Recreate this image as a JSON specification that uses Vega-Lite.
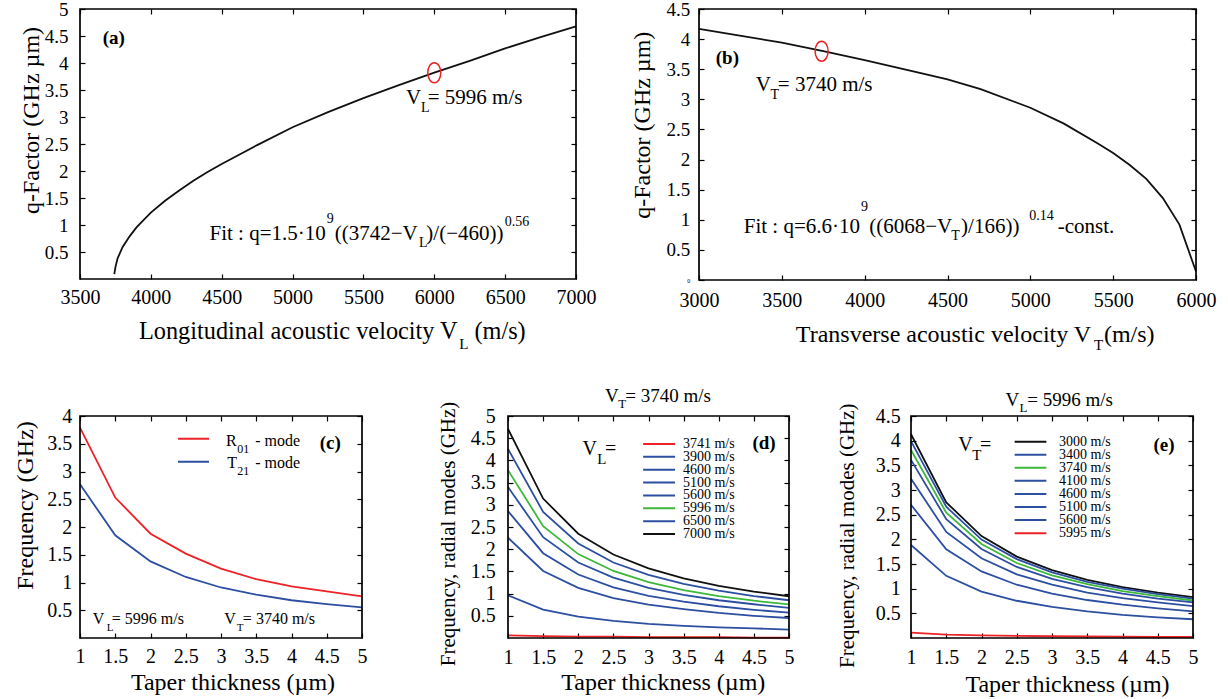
{
"$schema": "https://vega.github.io/schema/vega-lite/v6.json",
"background": "white",
"padding": {"left": 13, "top": 0, "right": 5, "bottom": 5},
"config": {
 "font": "Liberation Serif",
 "view": {"stroke": null},
 "axis": {"domain": false, "grid": false, "tickSize": 5, "offset": -5, "tickColor": "#000", "tickWidth": 1.2, "labelColor": "#000", "titleColor": "#000", "titleFontWeight": "normal", "labelFlush": false, "labelOverlap": false, "labelFont": "Liberation Serif", "titleFont": "Liberation Serif"},
 "text": {"font": "Liberation Serif", "color": "#000", "align": "left", "baseline": "middle"},
 "rule": {"strokeWidth": 2}
},
"spacing": 33,
"vconcat": [
{"hconcat": [
 {"width": 496, "height": 270,
  "data": {"values": [{}]},
  "resolve": {"axis": {"x": "independent", "y": "independent"}},
  "layer": [
   {"data": {"values": [
     {"V":3742,"q":0.09},{"V":3750,"q":0.22},{"V":3765,"q":0.38},{"V":3800,"q":0.59},{"V":3850,"q":0.79},{"V":3900,"q":0.96},{"V":4000,"q":1.23},{"V":4100,"q":1.45},{"V":4200,"q":1.64},{"V":4300,"q":1.82},{"V":4400,"q":1.98},{"V":4500,"q":2.13},{"V":4750,"q":2.48},{"V":5000,"q":2.81},{"V":5250,"q":3.09},{"V":5500,"q":3.35},{"V":5750,"q":3.59},{"V":6000,"q":3.82},{"V":6250,"q":4.04},{"V":6500,"q":4.27},{"V":6750,"q":4.48},{"V":7000,"q":4.68}]},
    "mark": {"type": "line", "color": "#111", "strokeWidth": 1.8},
    "encoding": {
     "x": {"field": "V", "type": "quantitative", "scale": {"domain": [3500, 7000]}, "axis": {"values": [3500,4000,4500,5000,5500,6000,6500,7000], "format": "d", "labelFontSize": 20, "labelBaseline": "middle", "labelPadding": 18.2, "title": null}},
     "y": {"field": "q", "type": "quantitative", "scale": {"domain": [0, 5]}, "axis": {"values": [0.5,1,1.5,2,2.5,3,3.5,4,4.5,5], "format": "~g", "labelFontSize": 19, "labelPadding": 12, "title": "q-Factor (GHz µm)", "titleFontSize": 24, "titleX": -53.8, "titleY": 111, "titleBaseline": "middle", "titleAngle": -90, "titleAlign": "center"}}
    }},
   {"mark": {"type": "point", "opacity": 0},
    "encoding": {"x": {"datum": 3500, "axis": {"orient": "top", "values": [3500,4000,4500,5000,5500,6000,6500,7000], "labels": false, "title": null}},
                 "y": {"datum": 0.5, "axis": {"orient": "right", "values": [0.5,1,1.5,2,2.5,3,3.5,4,4.5,5], "labels": false, "title": null}}}},
   {"mark": {"type": "rect", "filled": false, "stroke": "#000", "strokeWidth": 1.7},
    "encoding": {"x": {"datum": 3500, "axis": null}, "x2": {"datum": 7000}, "y": {"datum": 0, "axis": null}, "y2": {"datum": 5}}},
   {"mark": {"type": "point", "shape": "M-0.65,0 A0.65,1 0 1,1 0.65,0 A0.65,1 0 1,1 -0.65,0 Z", "size": 400, "filled": false, "color": "#ec2227", "strokeWidth": 1.5, "opacity": 1},
    "encoding": {"x": {"datum": 6000, "axis": null}, "y": {"datum": 3.82, "axis": null}}},
   {"mark": {"type": "text", "text": "(a)", "fontSize": 19, "fontWeight": "bold"}, "encoding": {"x": {"datum": 3660, "axis": null}, "y": {"datum": 4.47, "axis": null}}},
   {"mark": {"type": "text", "text": "V", "fontSize": 21}, "encoding": {"x": {"datum": 5800, "axis": null}, "y": {"datum": 3.36, "axis": null}}},
   {"mark": {"type": "text", "text": "L", "fontSize": 14}, "encoding": {"x": {"datum": 5906, "axis": null}, "y": {"datum": 3.16, "axis": null}}},
   {"mark": {"type": "text", "text": "= 5996 m/s", "fontSize": 21}, "encoding": {"x": {"datum": 5954, "axis": null}, "y": {"datum": 3.36, "axis": null}}},
   {"mark": {"type": "text", "text": "Fit : q=1.5·10", "fontSize": 21, "align": "right"}, "encoding": {"x": {"datum": 5234, "axis": null}, "y": {"datum": 0.835, "axis": null}}},
   {"mark": {"type": "text", "text": "9", "fontSize": 14}, "encoding": {"x": {"datum": 5241, "axis": null}, "y": {"datum": 1.12, "axis": null}}},
   {"mark": {"type": "text", "text": "((3742−V", "fontSize": 21}, "encoding": {"x": {"datum": 5297, "axis": null}, "y": {"datum": 0.835, "axis": null}}},
   {"mark": {"type": "text", "text": "L", "fontSize": 14}, "encoding": {"x": {"datum": 5892, "axis": null}, "y": {"datum": 0.66, "axis": null}}},
   {"mark": {"type": "text", "text": ")/(−460))", "fontSize": 21}, "encoding": {"x": {"datum": 5944, "axis": null}, "y": {"datum": 0.835, "axis": null}}},
   {"mark": {"type": "text", "text": "0.56", "fontSize": 14}, "encoding": {"x": {"datum": 6497, "axis": null}, "y": {"datum": 1.06, "axis": null}}},
   {"mark": {"type": "text", "text": "Longitudinal acoustic velocity V", "fontSize": 24.3, "align": "right"}, "encoding": {"x": {"datum": 6165, "axis": null}, "y": {"datum": -0.983, "axis": null}}},
   {"mark": {"type": "text", "text": "L", "fontSize": 15}, "encoding": {"x": {"datum": 6177, "axis": null}, "y": {"datum": -1.197, "axis": null}}},
   {"mark": {"type": "text", "text": "(m/s)", "fontSize": 24.3}, "encoding": {"x": {"datum": 6283, "axis": null}, "y": {"datum": -0.983, "axis": null}}}
  ]},
 {"width": 497, "height": 271,
  "data": {"values": [{}]},
  "resolve": {"axis": {"x": "independent", "y": "independent"}},
  "layer": [
   {"data": {"values": [
     {"V":3000,"q":4.17},{"V":3200,"q":4.08},{"V":3500,"q":3.94},{"V":3750,"q":3.80},{"V":4000,"q":3.65},{"V":4300,"q":3.46},{"V":4500,"q":3.33},{"V":4700,"q":3.17},{"V":5000,"q":2.86},{"V":5200,"q":2.60},{"V":5400,"q":2.28},{"V":5500,"q":2.11},{"V":5600,"q":1.91},{"V":5700,"q":1.68},{"V":5800,"q":1.36},{"V":5900,"q":0.92},{"V":6000,"q":0.14}]},
    "mark": {"type": "line", "color": "#111", "strokeWidth": 1.8},
    "encoding": {
     "x": {"field": "V", "type": "quantitative", "scale": {"domain": [3000, 6000]}, "axis": {"values": [3000,3500,4000,4500,5000,5500,6000], "format": "d", "labelFontSize": 20, "labelBaseline": "middle", "labelPadding": 20, "title": null}},
     "y": {"field": "q", "type": "quantitative", "scale": {"domain": [0, 4.5]}, "axis": {"values": [0,0.5,1,1.5,2,2.5,3,3.5,4,4.5], "format": "~g", "labelFontSize": {"condition": {"test": "datum.value === 0", "value": 6}, "value": 19}, "labelPadding": 9.3, "title": "q-Factor (GHz µm)", "titleFontSize": 24, "titleX": -62, "titleY": 115.7, "titleBaseline": "middle", "titleAngle": -90, "titleAlign": "center"}}
    }},
   {"mark": {"type": "point", "opacity": 0},
    "encoding": {"x": {"datum": 3000, "axis": {"orient": "top", "values": [3000,3500,4000,4500,5000,5500,6000], "labels": false, "title": null}},
                 "y": {"datum": 0.5, "axis": {"orient": "right", "values": [0.5,1,1.5,2,2.5,3,3.5,4,4.5], "labels": false, "title": null}}}},
   {"mark": {"type": "rect", "filled": false, "stroke": "#000", "strokeWidth": 1.7},
    "encoding": {"x": {"datum": 3000, "axis": null}, "x2": {"datum": 6000}, "y": {"datum": 0, "axis": null}, "y2": {"datum": 4.5}}},
   {"mark": {"type": "point", "shape": "M-0.65,0 A0.65,1 0 1,1 0.65,0 A0.65,1 0 1,1 -0.65,0 Z", "size": 400, "filled": false, "color": "#ec2227", "strokeWidth": 1.5, "opacity": 1},
    "encoding": {"x": {"datum": 3740, "axis": null}, "y": {"datum": 3.80, "axis": null}}},
   {"mark": {"type": "text", "text": "(b)", "fontSize": 19, "fontWeight": "bold"}, "encoding": {"x": {"datum": 3101, "axis": null}, "y": {"datum": 3.68, "axis": null}}},
   {"mark": {"type": "text", "text": "V", "fontSize": 21}, "encoding": {"x": {"datum": 3342, "axis": null}, "y": {"datum": 3.235, "axis": null}}},
   {"mark": {"type": "text", "text": "T", "fontSize": 14}, "encoding": {"x": {"datum": 3431, "axis": null}, "y": {"datum": 3.07, "axis": null}}},
   {"mark": {"type": "text", "text": "= 3740 m/s", "fontSize": 21}, "encoding": {"x": {"datum": 3476, "axis": null}, "y": {"datum": 3.235, "axis": null}}},
   {"mark": {"type": "text", "text": "Fit : q=6.6·10", "fontSize": 21, "align": "right"}, "encoding": {"x": {"datum": 3972, "axis": null}, "y": {"datum": 0.874, "axis": null}}},
   {"mark": {"type": "text", "text": "9", "fontSize": 14}, "encoding": {"x": {"datum": 3978, "axis": null}, "y": {"datum": 1.22, "axis": null}}},
   {"mark": {"type": "text", "text": "((6068−V", "fontSize": 21}, "encoding": {"x": {"datum": 4027, "axis": null}, "y": {"datum": 0.874, "axis": null}}},
   {"mark": {"type": "text", "text": "T", "fontSize": 14}, "encoding": {"x": {"datum": 4522, "axis": null}, "y": {"datum": 0.737, "axis": null}}},
   {"mark": {"type": "text", "text": ")/166))", "fontSize": 21}, "encoding": {"x": {"datum": 4582, "axis": null}, "y": {"datum": 0.874, "axis": null}}},
   {"mark": {"type": "text", "text": "0.14", "fontSize": 14}, "encoding": {"x": {"datum": 4993, "axis": null}, "y": {"datum": 1.07, "axis": null}}},
   {"mark": {"type": "text", "text": "-const.", "fontSize": 21}, "encoding": {"x": {"datum": 5165, "axis": null}, "y": {"datum": 0.874, "axis": null}}},
   {"mark": {"type": "text", "text": "Transverse acoustic velocity V", "fontSize": 24, "align": "right"}, "encoding": {"x": {"datum": 5367, "axis": null}, "y": {"datum": -0.913, "axis": null}}},
   {"mark": {"type": "text", "text": "T", "fontSize": 15}, "encoding": {"x": {"datum": 5385, "axis": null}, "y": {"datum": -1.078, "axis": null}}},
   {"mark": {"type": "text", "text": "(m/s)", "fontSize": 24}, "encoding": {"x": {"datum": 5444, "axis": null}, "y": {"datum": -0.913, "axis": null}}}
  ]}
 ], "bounds": "flush", "spacing": 123},
{"hconcat": [
 {"width": 282, "height": 222,
  "data": {"values": [{}]},
  "resolve": {"axis": {"x": "independent", "y": "independent"}},
  "layer": [
   {"data": {"values": [
     {"t":1,"R":3.79,"T":2.77},{"t":1.5,"R":2.53,"T":1.85},{"t":2,"R":1.88,"T":1.38},{"t":2.5,"R":1.52,"T":1.10},{"t":3,"R":1.25,"T":0.91},{"t":3.5,"R":1.06,"T":0.78},{"t":4,"R":0.93,"T":0.68},{"t":4.5,"R":0.84,"T":0.61},{"t":5,"R":0.75,"T":0.55}]},
    "transform": [{"fold": ["R", "T"], "as": ["mode", "f"]}],
    "mark": {"type": "line", "strokeWidth": 1.8},
    "encoding": {
     "x": {"field": "t", "type": "quantitative", "scale": {"domain": [1, 5]}, "axis": {"values": [1,1.5,2,2.5,3,3.5,4,4.5,5], "format": "~g", "labelFontSize": 20, "labelBaseline": "middle", "labelPadding": 18, "title": "Taper thickness (µm)", "titleFontSize": 24, "titleX": 152.5, "titleY": 49.7, "titleBaseline": "middle", "titleAlign": "center"}},
     "y": {"field": "f", "type": "quantitative", "scale": {"domain": [0, 4]}, "axis": {"values": [0.5,1,1.5,2,2.5,3,3.5,4], "format": "~g", "labelFontSize": 20, "labelPadding": 8.3, "title": "Frequency (GHz)", "titleFontSize": 24, "titleX": -59.2, "titleY": 89, "titleBaseline": "middle", "titleAngle": -90, "titleAlign": "center"}},
     "color": {"field": "mode", "type": "nominal", "scale": {"domain": ["R", "T"], "range": ["#ec2227", "#2d4fa1"]}, "legend": null}
    }},
   {"mark": {"type": "point", "opacity": 0},
    "encoding": {"x": {"datum": 1, "axis": {"orient": "top", "values": [1,1.5,2,2.5,3,3.5,4,4.5,5], "labels": false, "title": null}},
                 "y": {"datum": 0.5, "axis": {"orient": "right", "values": [0.5,1,1.5,2,2.5,3,3.5,4], "labels": false, "title": null}}}},
   {"mark": {"type": "rect", "filled": false, "stroke": "#000", "strokeWidth": 1.7},
    "encoding": {"x": {"datum": 1, "axis": null}, "x2": {"datum": 5}, "y": {"datum": 0, "axis": null}, "y2": {"datum": 4}}},
   {"mark": {"type": "rule", "color": "#ec2227"}, "encoding": {"x": {"datum": 2.39, "axis": null}, "x2": {"datum": 2.83}, "y": {"datum": 3.59, "axis": null}}},
   {"mark": {"type": "rule", "color": "#2d4fa1"}, "encoding": {"x": {"datum": 2.39, "axis": null}, "x2": {"datum": 2.83}, "y": {"datum": 3.175, "axis": null}}},
   {"mark": {"type": "text", "text": "R", "fontSize": 16}, "encoding": {"x": {"datum": 3.07, "axis": null}, "y": {"datum": 3.55, "axis": null}}},
   {"mark": {"type": "text", "text": "01", "fontSize": 12}, "encoding": {"x": {"datum": 3.23, "axis": null}, "y": {"datum": 3.40, "axis": null}}},
   {"mark": {"type": "text", "text": "- mode", "fontSize": 16}, "encoding": {"x": {"datum": 3.485, "axis": null}, "y": {"datum": 3.55, "axis": null}}},
   {"mark": {"type": "text", "text": "T", "fontSize": 16}, "encoding": {"x": {"datum": 3.09, "axis": null}, "y": {"datum": 3.16, "axis": null}}},
   {"mark": {"type": "text", "text": "21", "fontSize": 12}, "encoding": {"x": {"datum": 3.23, "axis": null}, "y": {"datum": 3.01, "axis": null}}},
   {"mark": {"type": "text", "text": "- mode", "fontSize": 16}, "encoding": {"x": {"datum": 3.485, "axis": null}, "y": {"datum": 3.16, "axis": null}}},
   {"mark": {"type": "text", "text": "(c)", "fontSize": 19, "fontWeight": "bold"}, "encoding": {"x": {"datum": 4.40, "axis": null}, "y": {"datum": 3.52, "axis": null}}},
   {"mark": {"type": "text", "text": "V", "fontSize": 16}, "encoding": {"x": {"datum": 1.18, "axis": null}, "y": {"datum": 0.337, "axis": null}}},
   {"mark": {"type": "text", "text": "L", "fontSize": 11}, "encoding": {"x": {"datum": 1.38, "axis": null}, "y": {"datum": 0.186, "axis": null}}},
   {"mark": {"type": "text", "text": "= 5996 m/s", "fontSize": 16}, "encoding": {"x": {"datum": 1.45, "axis": null}, "y": {"datum": 0.337, "axis": null}}},
   {"mark": {"type": "text", "text": "V", "fontSize": 16}, "encoding": {"x": {"datum": 3.045, "axis": null}, "y": {"datum": 0.337, "axis": null}}},
   {"mark": {"type": "text", "text": "T", "fontSize": 11}, "encoding": {"x": {"datum": 3.225, "axis": null}, "y": {"datum": 0.186, "axis": null}}},
   {"mark": {"type": "text", "text": "= 3740 m/s", "fontSize": 16}, "encoding": {"x": {"datum": 3.31, "axis": null}, "y": {"datum": 0.337, "axis": null}}}
  ]},
 {"width": 146, "height": 222, "data": {"values": [{}]}, "mark": {"type": "text", "text": ""}},
 {"width": 281, "height": 222,
  "data": {"values": [{}]},
  "resolve": {"axis": {"x": "independent", "y": "independent"}},
  "layer": [
   {"data": {"values": [
     {"t":1,"3741":0.06,"3900":0.96,"4600":2.26,"5100":2.86,"5600":3.40,"5996":3.78,"6500":4.26,"7000":4.71},
     {"t":1.5,"3741":0.04,"3900":0.64,"4600":1.51,"5100":1.91,"5600":2.27,"5996":2.52,"6500":2.84,"7000":3.14},
     {"t":2,"3741":0.03,"3900":0.48,"4600":1.13,"5100":1.43,"5600":1.70,"5996":1.89,"6500":2.13,"7000":2.35},
     {"t":2.5,"3741":0.03,"3900":0.385,"4600":0.90,"5100":1.14,"5600":1.36,"5996":1.51,"6500":1.70,"7000":1.88},
     {"t":3,"3741":0.02,"3900":0.32,"4600":0.75,"5100":0.95,"5600":1.13,"5996":1.26,"6500":1.42,"7000":1.57},
     {"t":3.5,"3741":0.02,"3900":0.275,"4600":0.65,"5100":0.82,"5600":0.97,"5996":1.08,"6500":1.22,"7000":1.345},
     {"t":4,"3741":0.02,"3900":0.24,"4600":0.565,"5100":0.715,"5600":0.85,"5996":0.945,"6500":1.065,"7000":1.175},
     {"t":4.5,"3741":0.01,"3900":0.215,"4600":0.50,"5100":0.635,"5600":0.76,"5996":0.84,"6500":0.945,"7000":1.045},
     {"t":5,"3741":0.01,"3900":0.19,"4600":0.45,"5100":0.57,"5600":0.68,"5996":0.755,"6500":0.85,"7000":0.94}]},
    "transform": [{"fold": ["3741","3900","4600","5100","5600","5996","6500","7000"], "as": ["VL", "f"]}],
    "mark": {"type": "line", "strokeWidth": 1.8},
    "encoding": {
     "x": {"field": "t", "type": "quantitative", "scale": {"domain": [1, 5]}, "axis": {"values": [1,1.5,2,2.5,3,3.5,4,4.5,5], "format": "~g", "labelFontSize": 20, "labelBaseline": "middle", "labelPadding": 19, "title": "Taper thickness (µm)", "titleFontSize": 24, "titleX": 154.8, "titleY": 49.7, "titleBaseline": "middle", "titleAlign": "center"}},
     "y": {"field": "f", "type": "quantitative", "scale": {"domain": [0, 5]}, "axis": {"values": [0.5,1,1.5,2,2.5,3,3.5,4,4.5,5], "format": "~g", "labelFontSize": 20, "labelPadding": 12.7, "title": "Frequency, radial modes (GHz)", "titleFontSize": 21, "titleX": -64.4, "titleY": 117.5, "titleBaseline": "middle", "titleAngle": -90, "titleAlign": "center"}},
     "color": {"field": "VL", "type": "nominal", "scale": {"domain": ["3741","3900","4600","5100","5600","5996","6500","7000"], "range": ["#ec2227","#2d4fa1","#2d4fa1","#2d4fa1","#2d4fa1","#3db83a","#2d4fa1","#111111"]}, "legend": null}
    }},
   {"mark": {"type": "point", "opacity": 0},
    "encoding": {"x": {"datum": 1, "axis": {"orient": "top", "values": [1,1.5,2,2.5,3,3.5,4,4.5,5], "labels": false, "title": null}},
                 "y": {"datum": 0.5, "axis": {"orient": "right", "values": [0.5,1,1.5,2,2.5,3,3.5,4,4.5,5], "labels": false, "title": null}}}},
   {"mark": {"type": "rect", "filled": false, "stroke": "#000", "strokeWidth": 1.7},
    "encoding": {"x": {"datum": 1, "axis": null}, "x2": {"datum": 5}, "y": {"datum": 0, "axis": null}, "y2": {"datum": 5}}},
   {"mark": {"type": "rule", "color": "#ec2227"}, "encoding": {"x": {"datum": 2.924, "axis": null}, "x2": {"datum": 3.378}, "y": {"datum": 4.37, "axis": null}}},
   {"mark": {"type": "rule", "color": "#2d4fa1"}, "encoding": {"x": {"datum": 2.924, "axis": null}, "x2": {"datum": 3.378}, "y": {"datum": 4.08, "axis": null}}},
   {"mark": {"type": "rule", "color": "#2d4fa1"}, "encoding": {"x": {"datum": 2.924, "axis": null}, "x2": {"datum": 3.378}, "y": {"datum": 3.79, "axis": null}}},
   {"mark": {"type": "rule", "color": "#2d4fa1"}, "encoding": {"x": {"datum": 2.924, "axis": null}, "x2": {"datum": 3.378}, "y": {"datum": 3.50, "axis": null}}},
   {"mark": {"type": "rule", "color": "#2d4fa1"}, "encoding": {"x": {"datum": 2.924, "axis": null}, "x2": {"datum": 3.378}, "y": {"datum": 3.21, "axis": null}}},
   {"mark": {"type": "rule", "color": "#3db83a"}, "encoding": {"x": {"datum": 2.924, "axis": null}, "x2": {"datum": 3.378}, "y": {"datum": 2.92, "axis": null}}},
   {"mark": {"type": "rule", "color": "#2d4fa1"}, "encoding": {"x": {"datum": 2.924, "axis": null}, "x2": {"datum": 3.378}, "y": {"datum": 2.63, "axis": null}}},
   {"mark": {"type": "rule", "color": "#111111"}, "encoding": {"x": {"datum": 2.924, "axis": null}, "x2": {"datum": 3.378}, "y": {"datum": 2.34, "axis": null}}},
   {"mark": {"type": "text", "text": "3741 m/s", "fontSize": 14}, "encoding": {"x": {"datum": 3.49, "axis": null}, "y": {"datum": 4.37, "axis": null}}},
   {"mark": {"type": "text", "text": "3900 m/s", "fontSize": 14}, "encoding": {"x": {"datum": 3.49, "axis": null}, "y": {"datum": 4.08, "axis": null}}},
   {"mark": {"type": "text", "text": "4600 m/s", "fontSize": 14}, "encoding": {"x": {"datum": 3.49, "axis": null}, "y": {"datum": 3.79, "axis": null}}},
   {"mark": {"type": "text", "text": "5100 m/s", "fontSize": 14}, "encoding": {"x": {"datum": 3.49, "axis": null}, "y": {"datum": 3.50, "axis": null}}},
   {"mark": {"type": "text", "text": "5600 m/s", "fontSize": 14}, "encoding": {"x": {"datum": 3.49, "axis": null}, "y": {"datum": 3.21, "axis": null}}},
   {"mark": {"type": "text", "text": "5996 m/s", "fontSize": 14}, "encoding": {"x": {"datum": 3.49, "axis": null}, "y": {"datum": 2.92, "axis": null}}},
   {"mark": {"type": "text", "text": "6500 m/s", "fontSize": 14}, "encoding": {"x": {"datum": 3.49, "axis": null}, "y": {"datum": 2.63, "axis": null}}},
   {"mark": {"type": "text", "text": "7000 m/s", "fontSize": 14}, "encoding": {"x": {"datum": 3.49, "axis": null}, "y": {"datum": 2.34, "axis": null}}},
   {"mark": {"type": "text", "text": "V", "fontSize": 19}, "encoding": {"x": {"datum": 2.38, "axis": null}, "y": {"datum": 5.46, "axis": null}}},
   {"mark": {"type": "text", "text": "T", "fontSize": 13}, "encoding": {"x": {"datum": 2.57, "axis": null}, "y": {"datum": 5.28, "axis": null}}},
   {"mark": {"type": "text", "text": "= 3740 m/s", "fontSize": 19}, "encoding": {"x": {"datum": 2.67, "axis": null}, "y": {"datum": 5.46, "axis": null}}},
   {"mark": {"type": "text", "text": "V", "fontSize": 20}, "encoding": {"x": {"datum": 2.06, "axis": null}, "y": {"datum": 4.26, "axis": null}}},
   {"mark": {"type": "text", "text": "L", "fontSize": 15}, "encoding": {"x": {"datum": 2.27, "axis": null}, "y": {"datum": 4.04, "axis": null}}},
   {"mark": {"type": "text", "text": "=", "fontSize": 20}, "encoding": {"x": {"datum": 2.38, "axis": null}, "y": {"datum": 4.26, "axis": null}}},
   {"mark": {"type": "text", "text": "(d)", "fontSize": 19, "fontWeight": "bold"}, "encoding": {"x": {"datum": 4.48, "axis": null}, "y": {"datum": 4.40, "axis": null}}}
  ]},
 {"width": 122, "height": 222, "data": {"values": [{}]}, "mark": {"type": "text", "text": ""}},
 {"width": 282, "height": 222,
  "data": {"values": [{}]},
  "resolve": {"axis": {"x": "independent", "y": "independent"}},
  "layer": [
   {"data": {"values": [
     {"t":1,"3000":4.13,"3400":3.99,"3740":3.81,"4100":3.61,"4600":3.23,"5100":2.70,"5600":1.885,"5995":0.11},
     {"t":1.5,"3000":2.75,"3400":2.66,"3740":2.54,"4100":2.41,"4600":2.15,"5100":1.80,"5600":1.26,"5995":0.07},
     {"t":2,"3000":2.065,"3400":1.995,"3740":1.905,"4100":1.805,"4600":1.615,"5100":1.35,"5600":0.94,"5995":0.055},
     {"t":2.5,"3000":1.65,"3400":1.60,"3740":1.52,"4100":1.44,"4600":1.29,"5100":1.08,"5600":0.755,"5995":0.045},
     {"t":3,"3000":1.375,"3400":1.33,"3740":1.27,"4100":1.20,"4600":1.08,"5100":0.90,"5600":0.63,"5995":0.035},
     {"t":3.5,"3000":1.18,"3400":1.14,"3740":1.09,"4100":1.03,"4600":0.92,"5100":0.77,"5600":0.54,"5995":0.03},
     {"t":4,"3000":1.03,"3400":1.0,"3740":0.95,"4100":0.90,"4600":0.81,"5100":0.675,"5600":0.47,"5995":0.025},
     {"t":4.5,"3000":0.92,"3400":0.89,"3740":0.85,"4100":0.80,"4600":0.72,"5100":0.60,"5600":0.42,"5995":0.02},
     {"t":5,"3000":0.83,"3400":0.80,"3740":0.76,"4100":0.72,"4600":0.645,"5100":0.54,"5600":0.38,"5995":0.02}]},
    "transform": [{"fold": ["3000","3400","3740","4100","4600","5100","5600","5995"], "as": ["VT", "f"]}],
    "mark": {"type": "line", "strokeWidth": 1.8},
    "encoding": {
     "x": {"field": "t", "type": "quantitative", "scale": {"domain": [1, 5]}, "axis": {"values": [1,1.5,2,2.5,3,3.5,4,4.5,5], "format": "~g", "labelFontSize": 20, "labelBaseline": "middle", "labelPadding": 19.7, "title": "Taper thickness (µm)", "titleFontSize": 24, "titleX": 156, "titleY": 51.4, "titleBaseline": "middle", "titleAlign": "center"}},
     "y": {"field": "f", "type": "quantitative", "scale": {"domain": [0, 4.5]}, "axis": {"values": [0.5,1,1.5,2,2.5,3,3.5,4,4.5], "format": "~g", "labelFontSize": 20, "labelPadding": 10.7, "title": "Frequency, radial modes (GHz)", "titleFontSize": 21, "titleX": -69, "titleY": 119.2, "titleBaseline": "middle", "titleAngle": -90, "titleAlign": "center"}},
     "color": {"field": "VT", "type": "nominal", "scale": {"domain": ["3000","3400","3740","4100","4600","5100","5600","5995"], "range": ["#111111","#2d4fa1","#3db83a","#2d4fa1","#2d4fa1","#2d4fa1","#2d4fa1","#ec2227"]}, "legend": null}
    }},
   {"mark": {"type": "point", "opacity": 0},
    "encoding": {"x": {"datum": 1, "axis": {"orient": "top", "values": [1,1.5,2,2.5,3,3.5,4,4.5,5], "labels": false, "title": null}},
                 "y": {"datum": 0.5, "axis": {"orient": "right", "values": [0.5,1,1.5,2,2.5,3,3.5,4,4.5], "labels": false, "title": null}}}},
   {"mark": {"type": "rect", "filled": false, "stroke": "#000", "strokeWidth": 1.7},
    "encoding": {"x": {"datum": 1, "axis": null}, "x2": {"datum": 5}, "y": {"datum": 0, "axis": null}, "y2": {"datum": 4.5}}},
   {"mark": {"type": "rule", "color": "#111111"}, "encoding": {"x": {"datum": 2.47, "axis": null}, "x2": {"datum": 2.92}, "y": {"datum": 3.98, "axis": null}}},
   {"mark": {"type": "rule", "color": "#2d4fa1"}, "encoding": {"x": {"datum": 2.47, "axis": null}, "x2": {"datum": 2.92}, "y": {"datum": 3.715, "axis": null}}},
   {"mark": {"type": "rule", "color": "#3db83a"}, "encoding": {"x": {"datum": 2.47, "axis": null}, "x2": {"datum": 2.92}, "y": {"datum": 3.45, "axis": null}}},
   {"mark": {"type": "rule", "color": "#2d4fa1"}, "encoding": {"x": {"datum": 2.47, "axis": null}, "x2": {"datum": 2.92}, "y": {"datum": 3.185, "axis": null}}},
   {"mark": {"type": "rule", "color": "#2d4fa1"}, "encoding": {"x": {"datum": 2.47, "axis": null}, "x2": {"datum": 2.92}, "y": {"datum": 2.92, "axis": null}}},
   {"mark": {"type": "rule", "color": "#2d4fa1"}, "encoding": {"x": {"datum": 2.47, "axis": null}, "x2": {"datum": 2.92}, "y": {"datum": 2.655, "axis": null}}},
   {"mark": {"type": "rule", "color": "#2d4fa1"}, "encoding": {"x": {"datum": 2.47, "axis": null}, "x2": {"datum": 2.92}, "y": {"datum": 2.39, "axis": null}}},
   {"mark": {"type": "rule", "color": "#ec2227"}, "encoding": {"x": {"datum": 2.47, "axis": null}, "x2": {"datum": 2.92}, "y": {"datum": 2.125, "axis": null}}},
   {"mark": {"type": "text", "text": "3000 m/s", "fontSize": 14}, "encoding": {"x": {"datum": 3.10, "axis": null}, "y": {"datum": 3.98, "axis": null}}},
   {"mark": {"type": "text", "text": "3400 m/s", "fontSize": 14}, "encoding": {"x": {"datum": 3.10, "axis": null}, "y": {"datum": 3.715, "axis": null}}},
   {"mark": {"type": "text", "text": "3740 m/s", "fontSize": 14}, "encoding": {"x": {"datum": 3.10, "axis": null}, "y": {"datum": 3.45, "axis": null}}},
   {"mark": {"type": "text", "text": "4100 m/s", "fontSize": 14}, "encoding": {"x": {"datum": 3.10, "axis": null}, "y": {"datum": 3.185, "axis": null}}},
   {"mark": {"type": "text", "text": "4600 m/s", "fontSize": 14}, "encoding": {"x": {"datum": 3.10, "axis": null}, "y": {"datum": 2.92, "axis": null}}},
   {"mark": {"type": "text", "text": "5100 m/s", "fontSize": 14}, "encoding": {"x": {"datum": 3.10, "axis": null}, "y": {"datum": 2.655, "axis": null}}},
   {"mark": {"type": "text", "text": "5600 m/s", "fontSize": 14}, "encoding": {"x": {"datum": 3.10, "axis": null}, "y": {"datum": 2.39, "axis": null}}},
   {"mark": {"type": "text", "text": "5995 m/s", "fontSize": 14}, "encoding": {"x": {"datum": 3.10, "axis": null}, "y": {"datum": 2.125, "axis": null}}},
   {"mark": {"type": "text", "text": "V", "fontSize": 19}, "encoding": {"x": {"datum": 2.34, "axis": null}, "y": {"datum": 4.83, "axis": null}}},
   {"mark": {"type": "text", "text": "L", "fontSize": 13}, "encoding": {"x": {"datum": 2.54, "axis": null}, "y": {"datum": 4.67, "axis": null}}},
   {"mark": {"type": "text", "text": "= 5996 m/s", "fontSize": 19}, "encoding": {"x": {"datum": 2.65, "axis": null}, "y": {"datum": 4.83, "axis": null}}},
   {"mark": {"type": "text", "text": "V", "fontSize": 20}, "encoding": {"x": {"datum": 1.67, "axis": null}, "y": {"datum": 3.92, "axis": null}}},
   {"mark": {"type": "text", "text": "T", "fontSize": 15}, "encoding": {"x": {"datum": 1.87, "axis": null}, "y": {"datum": 3.70, "axis": null}}},
   {"mark": {"type": "text", "text": "=", "fontSize": 20}, "encoding": {"x": {"datum": 1.98, "axis": null}, "y": {"datum": 3.92, "axis": null}}},
   {"mark": {"type": "text", "text": "(e)", "fontSize": 19, "fontWeight": "bold"}, "encoding": {"x": {"datum": 4.44, "axis": null}, "y": {"datum": 3.92, "axis": null}}}
  ]}
 ], "bounds": "flush", "spacing": 0, "resolve": {"scale": {"color": "independent"}}}
],
"resolve": {"scale": {"color": "independent"}}
}
